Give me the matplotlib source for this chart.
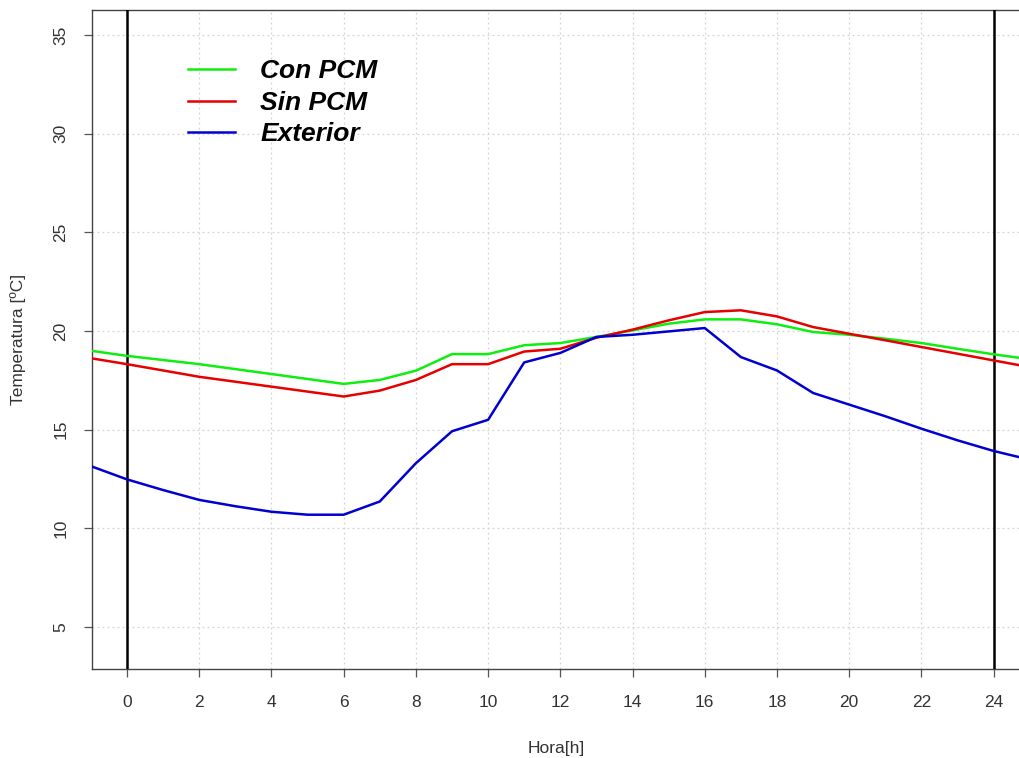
import numpy as np
import matplotlib
matplotlib.use("Agg")
import matplotlib.pyplot as plt

plt.rcParams['font.family'] = ['Liberation Sans', 'DejaVu Sans']

# hourly temperatures, -1 h .. 25 h
hora = [-1, 0, 1, 2, 3, 4, 5, 6, 7, 8, 9, 10, 11, 12, 13,
        14, 15, 16, 17, 18, 19, 20, 21, 22, 23, 24, 25]
con_pcm = [19.0, 18.74, 18.53, 18.32, 18.07, 17.82, 17.57, 17.32, 17.52, 17.99, 18.83, 18.83, 19.28, 19.39, 19.70,
           20.03, 20.37, 20.59, 20.59, 20.34, 19.95, 19.81, 19.61, 19.39, 19.10, 18.82, 18.57]
sin_pcm = [18.62, 18.32, 18.0, 17.68, 17.43, 17.18, 16.93, 16.68, 16.98, 17.52, 18.32, 18.32, 18.96, 19.10, 19.66,
           20.07, 20.54, 20.96, 21.05, 20.74, 20.20, 19.86, 19.53, 19.19, 18.85, 18.51, 18.17]
exterior = [13.15, 12.48, 11.94, 11.44, 11.12, 10.84, 10.69, 10.69, 11.36, 13.30, 14.92, 15.50, 18.41, 18.89, 19.70,
            19.81, 19.98, 20.15, 18.68, 18.00, 16.86, 16.27, 15.68, 15.05, 14.46, 13.92, 13.48]

series = [("Con PCM", con_pcm, "#10ee10"),
          ("Sin PCM", sin_pcm, "#e60000"),
          ("Exterior", exterior, "#0000d0")]

fig = plt.figure(figsize=(10.2, 7.58), dpi=100)
ax = fig.add_axes([92 / 1020, 1 - 669 / 758, 1 - 92 / 1020, (669 - 10) / 758])

ax.set_xlim(-0.97, 24.73)
ax.set_ylim(2.87, 36.27)

ax.set_xticks(np.arange(0, 25, 2))
ax.set_yticks(np.arange(5, 36, 5))
ax.grid(True, color="#d3d3d3", linestyle=(0, (1.5, 2.5)), linewidth=0.9)
ax.set_axisbelow(True)

for spine in ["left", "top", "bottom"]:
    ax.spines[spine].set_color("#444444")
    ax.spines[spine].set_linewidth(1.0)
ax.spines["right"].set_visible(False)

ax.tick_params(axis="both", direction="out", length=6, width=0.9,
               colors="#555555", labelcolor="#333333", labelsize=12.5)
ax.tick_params(axis="x", pad=13)
ax.tick_params(axis="y", pad=11)
for lab in ax.get_yticklabels():
    lab.set_rotation(90)
    lab.set_va("center")

for x0 in (0, 24):
    ax.axvline(x0, color="black", linewidth=1.8, zorder=3)

for name, vals, col in series:
    ax.plot(hora, vals, color=col, linewidth=1.8, label=name, zorder=4)

leg = ax.legend(loc="upper left", bbox_to_anchor=(0.078, 0.961), frameon=False,
                handlelength=1.78, handletextpad=0.95, labelspacing=0.28,
                prop={"size": 19, "weight": "bold", "style": "italic"})

ax.set_xlabel("Hora[h]", fontsize=12.5, color="#333333", labelpad=22)
ax.set_ylabel("Temperatura [ºC]", fontsize=12.5, color="#333333", labelpad=20)

fig.savefig("out.png", dpi=100)
